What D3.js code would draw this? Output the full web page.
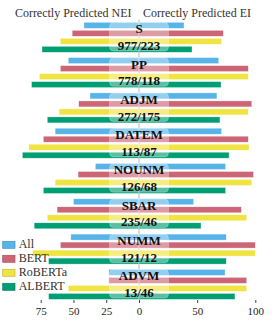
<!DOCTYPE html>
<html>
<head>
<meta charset="utf-8">
<script src="https://cdn.jsdelivr.net/npm/d3@7"></script>
<style>
  body { margin: 0; background: #fff; }
  svg text { font-family: "Liberation Serif", "Times New Roman", serif; }
</style>
</head>
<body>
<div id="chart"></div>
<script>
// data (percent correctly predicted)
const categories = ["S", "PP", "ADJM", "DATEM", "NOUNM", "SBAR", "NUMM", "ADVM"];
const counts = ["977/223", "778/118", "272/175", "113/87", "126/68", "235/46", "121/12", "13/46"];
const seriesNames = ["All", "BERT", "RoBERTa", "ALBERT"];
const seriesColors = ["#56B4E9", "#CC6677", "#F0E442", "#009E73"];

// left side: correctly predicted NEI
const neiAll     = [42, 54, 37.4, 64, 33.3, 50, 52, 23];
const neiBert    = [51, 60, 46, 73, 46.5, 62.5, 60, 23];
const neiRoberta = [60, 76, 61, 84, 64, 70, 81, 54];
const neiAlbert  = [74, 82, 70, 89, 73, 80, 69, 69];

// right side: correctly predicted EI
const eiAll     = [38.7, 68.5, 67, 71, 74.5, 47, 75, 74];
const eiBert    = [72.5, 94, 97, 94, 98.5, 88, 100, 92.6];
const eiRoberta = [71, 94, 94, 94.6, 97, 92.6, 100, 92.6];
const eiAlbert  = [45.6, 70.5, 69.6, 77.4, 74.5, 53.3, 75, 82.5];

const leftTicks = [75, 50, 25, 0];
const rightTicks = [50, 100];

const nei = [neiAll, neiBert, neiRoberta, neiAlbert];
const ei = [eiAll, eiBert, eiRoberta, eiAlbert];

const width = 273, height = 327;
const center = 139;

const svg = d3.select("#chart").append("svg")
    .attr("width", width)
    .attr("height", height);

const xL = d3.scaleLinear().domain([0, 75]).range([center, 40.7]);
const xR = d3.scaleLinear().domain([0, 100]).range([center, 255.3]);

const y0 = d3.scaleBand()
    .domain(categories)
    .range([19.65, 302.05])
    .paddingInner(0.15)
    .paddingOuter(0.075);

const y1 = d3.scaleBand()
    .domain(seriesNames)
    .range([0, y0.bandwidth()])
    .paddingInner(0.25);

const color = d3.scaleOrdinal().domain(seriesNames).range(seriesColors);

// titles
svg.append("text")
    .attr("x", 131.5).attr("y", 16.5)
    .attr("text-anchor", "end")
    .style("font-size", "12px").style("fill", "#333")
    .text("Correctly Predicted NEI");
svg.append("text")
    .attr("x", 143).attr("y", 16.5)
    .attr("text-anchor", "start")
    .style("font-size", "12px").style("fill", "#333")
    .text("Correctly Predicted EI");

// thin zero line behind the bars
svg.append("line")
    .attr("x1", center).attr("x2", center)
    .attr("y1", y0.range()[0]).attr("y2", 300)
    .attr("stroke", "#888")
    .attr("stroke-width", 0.6);

// bars
const rows = [];
categories.forEach((c, i) => {
    seriesNames.forEach((s, j) => {
        rows.push({cat: c, series: s, nei: nei[j][i], ei: ei[j][i]});
    });
});

const groups = svg.append("g")
    .attr("stroke", "#fff")
    .attr("stroke-width", 0.5)
    .attr("stroke-opacity", 0.7);

groups.selectAll("rect.left")
    .data(rows)
    .enter().append("rect")
    .attr("class", "left")
    .attr("x", d => xL(d.nei))
    .attr("width", d => xL(0) - xL(d.nei))
    .attr("y", d => y0(d.cat) + y1(d.series))
    .attr("height", y1.bandwidth())
    .attr("fill", d => color(d.series));

groups.selectAll("rect.right")
    .data(rows)
    .enter().append("rect")
    .attr("class", "right")
    .attr("x", xR(0))
    .attr("width", d => xR(d.ei) - xR(0))
    .attr("y", d => y0(d.cat) + y1(d.series))
    .attr("height", y1.bandwidth())
    .attr("fill", d => color(d.series));

// center labels
const boxW = 59;
const lab = svg.append("g").selectAll("g")
    .data(categories)
    .enter().append("g")
    .attr("transform", d => "translate(" + center + "," + y0(d) + ")");

lab.append("rect")
    .attr("x", -boxW / 2)
    .attr("y", 0.2)
    .attr("width", boxW)
    .attr("height", y0.bandwidth() - 1.5)
    .attr("rx", 4)
    .attr("fill", "#fff")
    .attr("fill-opacity", 0.35)
    .attr("stroke", "#fff")
    .attr("stroke-opacity", 0.4)
    .attr("stroke-width", 0.6);

lab.append("text")
    .attr("y", 11)
    .attr("text-anchor", "middle")
    .style("font-size", "13px").style("font-weight", "bold").style("fill", "#111")
    .text(d => d);

lab.append("text")
    .attr("y", 27.7)
    .attr("text-anchor", "middle")
    .style("font-size", "13px").style("font-weight", "bold").style("fill", "#111")
    .text((d, i) => counts[i]);

// axes
const axisL = d3.axisBottom(xL).tickValues(leftTicks).tickSize(3).tickPadding(4.5);
const axisR = d3.axisBottom(xR).tickValues(rightTicks).tickSize(3).tickPadding(4.5);

[axisL, axisR].forEach(ax => {
    const g = svg.append("g")
        .attr("transform", "translate(0,300)")
        .call(ax);
    g.select(".domain").remove();
    g.selectAll("line").attr("stroke", "#444");
    g.selectAll("text")
        .style("font-family", "'Liberation Serif', 'Times New Roman', serif")
        .style("font-size", "11px")
        .attr("fill", "#222");
});

// legend
const legend = svg.append("g").selectAll("g")
    .data(seriesNames)
    .enter().append("g")
    .attr("transform", (d, i) => "translate(2.7," + (241.3 + i * 14) + ")");

legend.append("rect")
    .attr("width", 12.3)
    .attr("height", 7)
    .attr("fill", d => color(d))
    .attr("stroke", d => d3.color(color(d)).darker(0.6))
    .attr("stroke-width", 0.7);

legend.append("text")
    .attr("x", 16)
    .attr("y", 6.5)
    .style("font-size", "12px").style("fill", "#333")
    .text(d => d);
</script>
</body>
</html>
